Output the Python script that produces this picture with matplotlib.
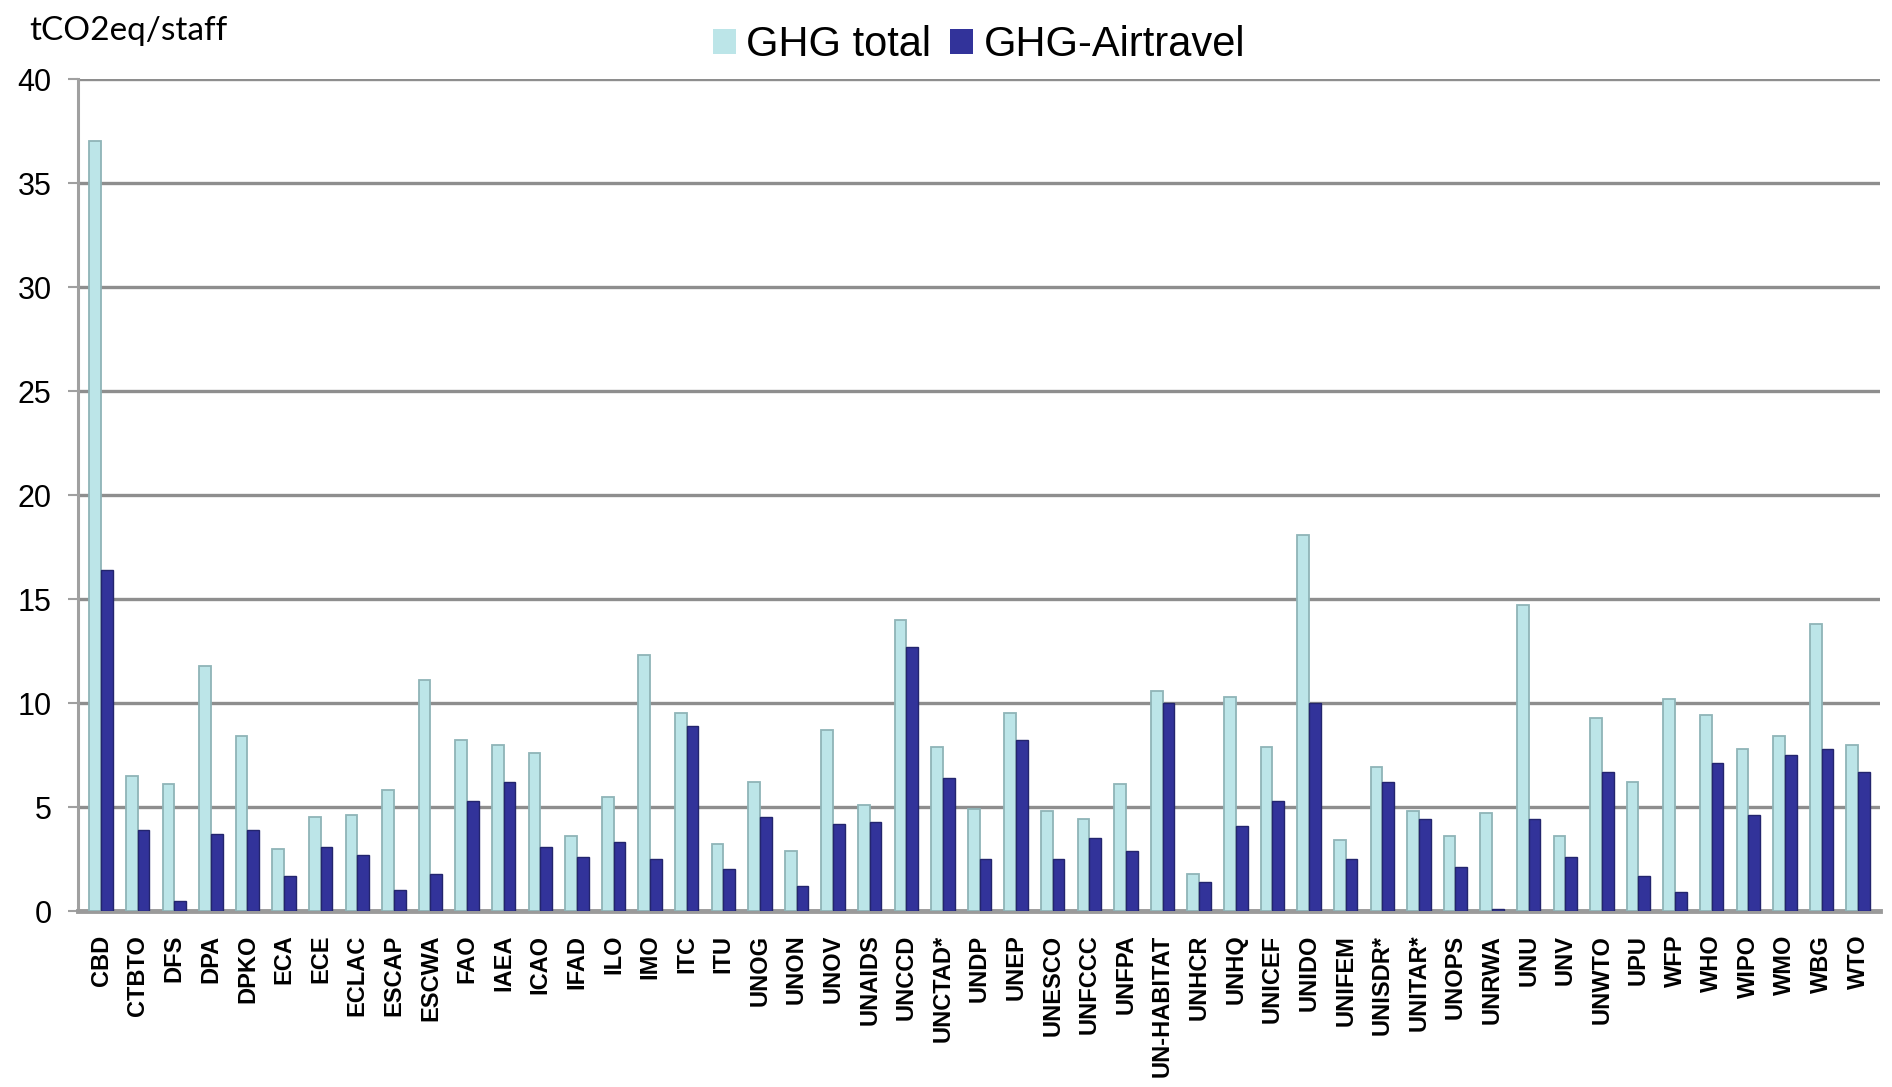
import numpy as np
import matplotlib.pyplot as plt

# agencies on the x axis
agencies = ["CBD", "CTBTO", "DFS", "DPA", "DPKO", "ECA", "ECE", "ECLAC", "ESCAP",
            "ESCWA", "FAO", "IAEA", "ICAO", "IFAD", "ILO", "IMO", "ITC", "ITU",
            "UNOG", "UNON", "UNOV", "UNAIDS", "UNCCD", "UNCTAD*", "UNDP", "UNEP",
            "UNESCO", "UNFCCC", "UNFPA", "UN-HABITAT", "UNHCR", "UNHQ", "UNICEF",
            "UNIDO", "UNIFEM", "UNISDR*", "UNITAR*", "UNOPS", "UNRWA", "UNU", "UNV",
            "UNWTO", "UPU", "WFP", "WHO", "WIPO", "WMO", "WBG", "WTO"]

# tCO2eq per staff
ghg_total = [37.0, 6.5, 6.1, 11.8, 8.4, 3.0, 4.5, 4.6, 5.8,
             11.1, 8.2, 8.0, 7.6, 3.6, 5.5, 12.3, 9.5, 3.2,
             6.2, 2.9, 8.7, 5.1, 14.0, 7.9, 4.9, 9.5,
             4.8, 4.4, 6.1, 10.6, 1.8, 10.3, 7.9,
             18.1, 3.4, 6.9, 4.8, 3.6, 4.7, 14.7, 3.6,
             9.3, 6.2, 10.2, 9.4, 7.8, 8.4, 13.8, 8.0]
ghg_air = [16.4, 3.9, 0.5, 3.7, 3.9, 1.7, 3.1, 2.7, 1.0,
           1.8, 5.3, 6.2, 3.1, 2.6, 3.3, 2.5, 8.9, 2.0,
           4.5, 1.2, 4.2, 4.3, 12.7, 6.4, 2.5, 8.2,
           2.5, 3.5, 2.9, 10.0, 1.4, 4.1, 5.3,
           10.0, 2.5, 6.2, 4.4, 2.1, 0.1, 4.4, 2.6,
           6.7, 1.7, 0.9, 7.1, 4.6, 7.5, 7.8, 6.7]

series_names = ["GHG total", "GHG-Airtravel"]
yticks = [0, 5, 10, 15, 20, 25, 30, 35, 40]

light = "#BCE5E8"
light_edge = "#8FB4B7"
dark = "#32339A"
dark_edge = "#23256E"

fig = plt.figure(figsize=(18.92, 10.87), dpi=100)
ax = fig.add_axes([0.0412, 0.1619, 0.9525, 0.7654])

x = np.arange(len(agencies))
w = 0.32
b1 = ax.bar(x - w / 2, ghg_total, w, color=light, edgecolor=light_edge,
            linewidth=1.3, label=series_names[0], zorder=3)
b2 = ax.bar(x + w / 2, ghg_air, w, color=dark, edgecolor=dark_edge,
            linewidth=1.0, label=series_names[1], zorder=3)

ax.set_xlim(-0.63, 48.6)
ax.set_ylim(0, 40)
ax.set_yticks(yticks)
ax.set_xticks(x)
ax.set_xticklabels(agencies, rotation=90, fontsize=17, fontweight="bold",
                   family="Liberation Sans", va="top")
ax.tick_params(axis="x", length=0, pad=17)
ax.tick_params(axis="y", direction="out", length=7, width=1.5, color="#A0A0A0",
               pad=12, labelsize=22)
for lbl in ax.get_yticklabels():
    lbl.set_family("Liberation Sans")

ax.yaxis.grid(True, color="#8E8E8E", linewidth=2.4, zorder=0)
ax.set_axisbelow(True)
for side in ["top", "right"]:
    ax.spines[side].set_visible(False)
ax.spines["left"].set_color("#A0A0A0")
ax.spines["left"].set_linewidth(2.2)
ax.spines["bottom"].set_color("#9A9A9A")
ax.spines["bottom"].set_linewidth(3.5)

fig.text(0.0153, 0.963, "tCO2eq/staff", fontsize=24, family="Lato",
         va="baseline", ha="left")

fig.legend(handles=[b1, b2], labels=series_names, loc="center",
           bbox_to_anchor=(0.5175, 0.9586), ncol=2, frameon=False,
           prop={"family": "Liberation Sans", "size": 30},
           handlelength=0.55, handleheight=0.55, handletextpad=0.25,
           columnspacing=0.45, borderpad=0)
for h in fig.legends[0].legend_handles:
    h.set_edgecolor("none")

fig.savefig("out.png", dpi=100)
